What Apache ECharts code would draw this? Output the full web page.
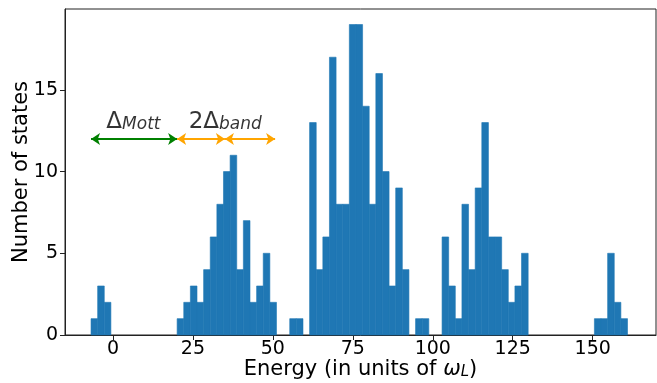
<!DOCTYPE html>
<html>
<head>
<meta charset="utf-8">
<script src="https://cdn.jsdelivr.net/npm/echarts@6/dist/echarts.min.js"></script>
<style>
html,body{margin:0;padding:0;background:#fff;}
#main{width:657px;height:383px;}
</style>
</head>
<body>
<div id="main"></div>
<script>
// histogram: first bin edge, bin width, counts per bin
var binStart = -6.86;
var binWidth = 2.071;
var counts = [1,3,2,0,0,0,0,0,0,0,0,0,0,1,2,3,2,4,6,8,10,11,4,7,2,3,5,2,0,0,
	1,1,0,13,4,6,17,8,8,19,19,14,8,16,10,3,9,4,0,1,1,0,0,6,3,1,8,4,9,13,
	6,6,4,2,3,5,0,0,0,0,0,0,0,0,0,0,1,1,5,2,1];
var xTicks = [0,25,50,75,100,125,150];
var yTicks = [0,5,10,15];
// gap arrows (energy from, energy to) at height arrowY
var mottArrow = [-6.86, 20.06];
var bandArrows = [[20.06, 35.0], [35.0, 50.7]];
var arrowY = 12;
// annotation labels
var labels = [
	{x:6.4, y:13.05, text:'{d|Δ}{s|Mott}'},
	{x:35.1, y:13.05, text:'{d|2Δ}{s|band}'}
];

var font = 'DejaVu Sans';
var histData = counts.map(function(c, i){
	return [binStart + i*binWidth, binStart + (i+1)*binWidth, c];
});

function renderBar(params, api){
	if(!api.value(2)) return null;
	var p0 = api.coord([api.value(0), api.value(2)]);
	var p1 = api.coord([api.value(1), 0]);
	return {
		type:'rect',
		shape:{x:p0[0], y:p0[1], width:p1[0]-p0[0], height:p1[1]-p0[1]},
		style:{fill:'#1f77b4', stroke:'#1f77b4', lineWidth:0.6}
	};
}

var arrowLines = [];
arrowLines.push([{coord:[mottArrow[0],arrowY], lineStyle:{color:'#008000'}},{coord:[mottArrow[1],arrowY]}]);
bandArrows.forEach(function(a){
	arrowLines.push([{coord:[a[0],arrowY], lineStyle:{color:'#ffa500'}},{coord:[a[1],arrowY]}]);
});

var myChart = echarts.init(document.getElementById('main'), null, {renderer:'canvas'});
var option = {
	animation:false,
	grid:{left:65, right:1, top:9, bottom:48, outerBoundsMode:'none', containLabel:false,
		show:true, borderColor:'#222', borderWidth:1, backgroundColor:'transparent'},
	xAxis:{
		type:'value', min:-15, max:169.8,
		name:'{n|Energy (in units of }{w|ω}{l|L}{n|)}',
		nameLocation:'middle', nameGap:24, nameMoveOverlap:false,
		nameTextStyle:{
			fontFamily:font, fontSize:21, color:'#000',
			rich:{
				n:{fontFamily:font, fontSize:21, color:'#000'},
				w:{fontFamily:font, fontSize:21, fontStyle:'italic', color:'#000'},
				l:{fontFamily:font, fontSize:15, fontStyle:'italic', color:'#000', verticalAlign:'bottom', padding:[6,0,0,0]}
			}
		},
		axisLine:{show:true, onZero:false, lineStyle:{color:'#222', width:1}},
		axisTick:{show:true, length:5, customValues:xTicks, lineStyle:{color:'#222'}},
		axisLabel:{fontFamily:font, fontSize:19, color:'#000', margin:5, customValues:xTicks},
		splitLine:{show:false}
	},
	yAxis:{
		type:'value', min:0, max:19.95,
		name:'Number of states',
		nameLocation:'middle', nameGap:33, nameMoveOverlap:false,
		nameTextStyle:{fontFamily:font, fontSize:21, color:'#000'},
		axisLine:{show:true, onZero:false, lineStyle:{color:'#222', width:1}},
		axisTick:{show:true, length:5, customValues:yTicks, lineStyle:{color:'#222'}},
		axisLabel:{fontFamily:font, fontSize:19, color:'#000', margin:7, customValues:yTicks},
		splitLine:{show:false}
	},
	series:[
		{
			type:'custom',
			renderItem:renderBar,
			data:histData,
			encode:{x:[0,1], y:2},
			silent:true
		},
		{
			type:'scatter',
			symbolSize:0,
			silent:true,
			data:labels.map(function(l){ return {value:[l.x, l.y], text:l.text}; }),
			label:{
				show:true, position:'inside',
				formatter:function(p){ return p.data.text; },
				rich:{
					d:{fontFamily:font, fontSize:23, color:'#000', verticalAlign:'bottom'},
					s:{fontFamily:font, fontSize:17, fontStyle:'italic', color:'#000', verticalAlign:'bottom'}
				}
			},
			markLine:{
				silent:true,
				symbol:['arrow','arrow'],
				symbolSize:[9,9],
				label:{show:false},
				lineStyle:{type:'solid', width:2},
				emphasis:{disabled:true},
				data:arrowLines
			}
		}
	]
};
myChart.setOption(option);
</script>
</body>
</html>
